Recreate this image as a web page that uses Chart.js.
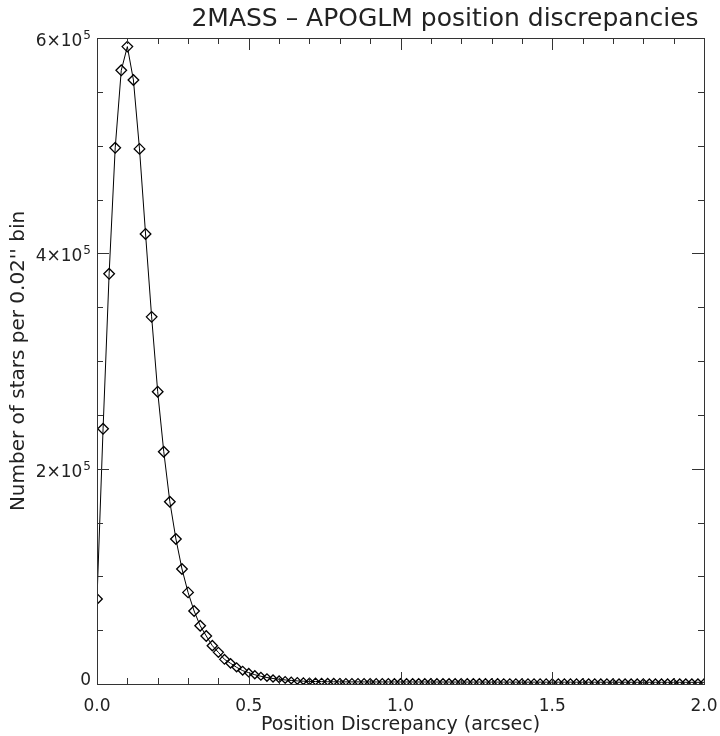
<!DOCTYPE html>
<html>
<head>
<meta charset="utf-8">
<title>2MASS - APOGLM position discrepancies</title>
<script src="https://cdn.jsdelivr.net/npm/chart.js@4.4.1/dist/chart.umd.min.js"></script>
<style>
    html, body { margin: 0; padding: 0; background: #fff; }
    #wrap { width: 720px; height: 736px; position: relative; }
</style>
</head>
<body>
<div id="wrap"><canvas id="grafico"></canvas></div>
<script>
// ── Dados ──
const BINS = [
    0.00, 0.02, 0.04, 0.06, 0.08, 0.10, 0.12, 0.14, 0.16, 0.18,
    0.20, 0.22, 0.24, 0.26, 0.28, 0.30, 0.32, 0.34, 0.36, 0.38,
    0.40, 0.42, 0.44, 0.46, 0.48, 0.50, 0.52, 0.54, 0.56, 0.58,
    0.60, 0.62, 0.64, 0.66, 0.68, 0.70, 0.72, 0.74, 0.76, 0.78,
    0.80, 0.82, 0.84, 0.86, 0.88, 0.90, 0.92, 0.94, 0.96, 0.98,
    1.00, 1.02, 1.04, 1.06, 1.08, 1.10, 1.12, 1.14, 1.16, 1.18,
    1.20, 1.22, 1.24, 1.26, 1.28, 1.30, 1.32, 1.34, 1.36, 1.38,
    1.40, 1.42, 1.44, 1.46, 1.48, 1.50, 1.52, 1.54, 1.56, 1.58,
    1.60, 1.62, 1.64, 1.66, 1.68, 1.70, 1.72, 1.74, 1.76, 1.78,
    1.80, 1.82, 1.84, 1.86, 1.88, 1.90, 1.92, 1.94, 1.96, 1.98,
    2.00
];

const COUNTS = [
    79000, 237000, 381000, 498000, 570000, 592000, 561000, 497000, 418000, 341000,
    271500, 215700, 169300, 134700, 106800, 85100, 67800, 54100, 44600, 35600,
    29400, 22900, 19200, 15500, 12400, 10500, 8600, 7200, 6000, 5100,
    4400, 3800, 3300, 2900, 2600, 2400, 2300, 2200, 2100, 2050,
    2000, 1980, 1950, 1960, 1930, 1920, 1900, 1910, 1890, 1880,
    1870, 1880, 1860, 1850, 1860, 1840, 1830, 1840, 1820, 1810,
    1820, 1800, 1790, 1800, 1780, 1770, 1780, 1760, 1750, 1760,
    1740, 1730, 1740, 1720, 1710, 1720, 1700, 1690, 1700, 1680,
    1670, 1680, 1660, 1650, 1660, 1640, 1630, 1640, 1620, 1610,
    1620, 1600, 1590, 1600, 1580, 1570, 1580, 1560, 1550, 1560,
    1540
];

const X_MAJOR  = [0, 0.5, 1.0, 1.5, 2.0];
const X_LABELS = ['0.0', '0.5', '1.0', '1.5', '2.0'];
const X_MINOR  = [0.1, 0.2, 0.3, 0.4, 0.6, 0.7, 0.8, 0.9, 1.1, 1.2, 1.3, 1.4, 1.6, 1.7, 1.8, 1.9];

const Y_MAJOR  = [0, 200000, 400000, 600000];
const Y_LABELS = [['0', ''], ['2×10', '5'], ['4×10', '5'], ['6×10', '5']];
const Y_MINOR  = [50000, 100000, 150000, 250000, 300000, 350000, 450000, 500000, 550000];

const TITULO   = '2MASS – APOGLM position discrepancies';
const TITULO_X = 'Position Discrepancy (arcsec)';
const TITULO_Y = "Number of stars per 0.02'' bin";

const FONTE = '"DejaVu Sans", sans-serif';
const COR   = '#222';

// ── Moldura, ticks e textos (estilo IDL) ──
const eixos = {
    id: 'eixos',
    afterDraw(chart) {
        const { ctx, chartArea: a, scales: { x, y } } = chart;
        ctx.save();
        ctx.strokeStyle = '#333';
        ctx.lineWidth = 1;
        ctx.strokeRect(a.left + 0.5, a.top + 0.5, a.right - a.left, a.bottom - a.top);

        const tickX = (v, len) => {
            const px = Math.round(x.getPixelForValue(v)) + 0.5;
            ctx.beginPath();
            ctx.moveTo(px, a.bottom); ctx.lineTo(px, a.bottom - len);
            ctx.moveTo(px, a.top);    ctx.lineTo(px, a.top + len);
            ctx.stroke();
        };
        const tickY = (v, len) => {
            const py = Math.round(y.getPixelForValue(v)) + 0.5;
            ctx.beginPath();
            ctx.moveTo(a.left, py);  ctx.lineTo(a.left + len, py);
            ctx.moveTo(a.right, py); ctx.lineTo(a.right - len, py);
            ctx.stroke();
        };
        X_MAJOR.forEach(v => tickX(v, 12));
        X_MINOR.forEach(v => tickX(v, 6));
        Y_MAJOR.forEach(v => tickY(v, 12));
        Y_MINOR.forEach(v => tickY(v, 6));

        ctx.fillStyle = COR;

        // rótulos do eixo x
        ctx.font = `17px ${FONTE}`;
        ctx.textAlign = 'center';
        ctx.textBaseline = 'alphabetic';
        X_MAJOR.forEach((v, i) => {
            ctx.fillText(X_LABELS[i], x.getPixelForValue(v), a.bottom + 27);
        });

        // rótulos do eixo y (com expoente)
        const dir = a.left - 6;
        Y_MAJOR.forEach((v, i) => {
            const [base, exp] = Y_LABELS[i];
            const py = y.getPixelForValue(v);
            ctx.textAlign = 'right';
            if (!exp) {
                ctx.font = `17px ${FONTE}`;
                ctx.fillText(base, dir, py + 1);
                return;
            }
            ctx.font = `12px ${FONTE}`;
            const wExp = ctx.measureText(exp).width;
            ctx.fillText(exp, dir, py + 1);
            ctx.font = `17px ${FONTE}`;
            ctx.fillText(base, dir - wExp - 1, py + 8);
        });

        // títulos
        ctx.textAlign = 'center';
        ctx.font = `25px ${FONTE}`;
        ctx.fillText(TITULO, 445, 26);

        ctx.font = `19px ${FONTE}`;
        ctx.fillText(TITULO_X, (a.left + a.right) / 2, a.bottom + 46);

        ctx.save();
        ctx.translate(24, (a.top + a.bottom) / 2);
        ctx.rotate(-Math.PI / 2);
        ctx.font = `20px ${FONTE}`;
        ctx.fillText(TITULO_Y, 0, 0);
        ctx.restore();

        ctx.restore();
    }
};

const pontos = BINS.map((b, i) => ({ x: b, y: COUNTS[i] }));

new Chart(document.getElementById('grafico'), {
    type: 'line',
    data: {
        datasets: [{
            data: pontos,
            borderColor: '#000',
            borderWidth: 1,
            tension: 0,
            pointStyle: 'rectRot',
            pointBackgroundColor: 'rgba(0,0,0,0)',
            pointBorderColor: '#000',
            pointBorderWidth: 1.3,
            pointRadius: ctx => {
                const v = ctx.raw ? ctx.raw.x : 0;
                if (v < 0.36) return 5.3;
                if (v < 0.6) return 5.3 - (v - 0.36) * 8;
                return 3.3;
            },
        }]
    },
    options: {
        responsive: true,
        maintainAspectRatio: false,
        animation: false,
        layout: { padding: { left: 97, right: 16, top: 38, bottom: 52 } },
        plugins: {
            legend: { display: false },
            tooltip: { enabled: false },
            title: { display: false }
        },
        scales: {
            x: { type: 'linear', min: 0, max: 2, display: false },
            y: { type: 'linear', min: 0, max: 600000, display: false }
        }
    },
    plugins: [eixos]
});
</script>
</body>
</html>
